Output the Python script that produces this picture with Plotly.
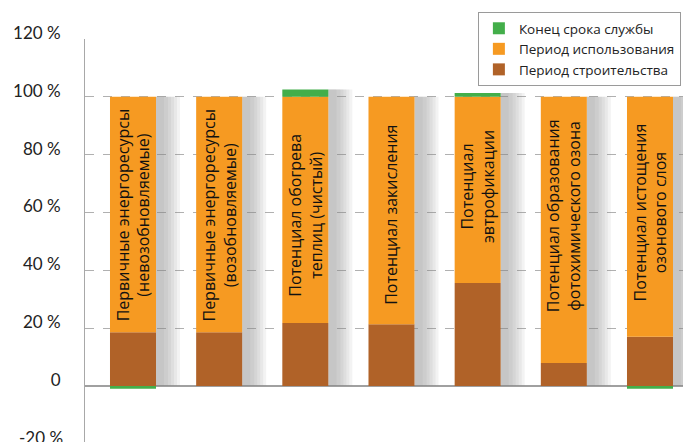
import plotly.graph_objects as go

# Life-cycle impact shares per indicator (percent of total)
categories = [
    "Первичные энергоресурсы<br>(невозобновляемые)",
    "Первичные энергоресурсы<br>(возобновляемые)",
    "Потенциал обогрева<br>теплиц (чистый)",
    "Потенциал закисления",
    "Потенциал<br>эвтрофикации",
    "Потенциал образования<br>фотохимического озона",
    "Потенциал истощения<br>озонового слоя",
]
construction = [18.6, 18.6, 21.8, 21.3, 35.6, 7.9, 17.0]
use_phase = [81.4, 81.4, 78.2, 78.7, 64.4, 92.1, 83.0]
end_of_life = [-1.0, 0.0, 2.5, 0.0, 1.3, 0.0, -1.0]

series_names = ["Период строительства", "Период использования", "Конец срока службы"]
tick_values = [0, 20, 40, 60, 80, 100, 120]
tick_labels = ["0", "20 %", "40 %", "60 %", "80 %", "100 %", "120 %"]
lowest_tick = -20
lowest_tick_label = "-20 %"

# styling
colors = {"construction": "#B06228", "use": "#F69A22", "eol": "#43AE4A"}
bar_width = 0.534
y_range = [-19.4, 120]
label_centers = [59, 59, 59, 59, 69, 59, 60]  # vertical centre of in-bar captions (axis units)
text_font = "Open Sans"
tick_font = dict(family="Lato", size=17, color="#222222")

x = list(range(len(categories)))
use_base = construction[:]
eol_base = [c + u if e > 0 else 0 for c, u, e in zip(construction, use_phase, end_of_life)]
tops = [c + u + max(e, 0) for c, u, e in zip(construction, use_phase, end_of_life)]

fig = go.Figure()

# soft drop shadow to the right of every column, built from thin translucent layers
for w_px in (8, 12, 15, 18, 21, 24):
    fig.add_trace(go.Bar(
        x=x, y=tops, base=[0] * len(x),
        width=w_px / 86.2, offset=bar_width / 2,
        marker=dict(color="rgba(140,140,140,0.1)", line=dict(width=0)),
        showlegend=False, hoverinfo="skip",
    ))

fig.add_trace(go.Bar(
    x=x, y=construction, base=[0] * len(x), width=bar_width,
    name=series_names[0],
    marker=dict(color=colors["construction"], line=dict(width=0)),
))
fig.add_trace(go.Bar(
    x=x, y=use_phase, base=use_base, width=bar_width,
    name=series_names[1],
    marker=dict(color=colors["use"], line=dict(width=0)),
))
fig.add_trace(go.Bar(
    x=x, y=end_of_life, base=eol_base, width=bar_width,
    name=series_names[2],
    marker=dict(color=colors["eol"], line=dict(width=0)),
))

for xi, name, yc in zip(x, categories, label_centers):
    fig.add_annotation(
        x=xi, y=yc, text=name, textangle=-90, showarrow=False,
        xanchor="center", yanchor="middle",
        font=dict(family=text_font, size=16, color="#111111"),
    )

# the -20 % tick sits just below the visible axis range, so place it in paper units
fig.add_annotation(
    xref="paper", yref="paper", x=0,
    y=(lowest_tick - y_range[0]) / (y_range[1] - y_range[0]),
    text=lowest_tick_label,
    showarrow=False, xanchor="right", yanchor="middle",
    xshift=-20, yshift=6, font=tick_font,
)

fig.update_layout(
    width=683, height=442,
    margin=dict(l=85, r=0, t=39, b=0),
    paper_bgcolor="white", plot_bgcolor="white",
    barmode="overlay",
    showlegend=True,
    legend=dict(
        x=0.657, y=1.067, xanchor="left", yanchor="top",
        traceorder="reversed",
        bordercolor="#9a9a9a", borderwidth=1, bgcolor="white",
        font=dict(family=text_font, size=13.5, color="#222222"),
    ),
)
fig.update_xaxes(
    range=[-0.557, 6.383], showticklabels=False, showgrid=False,
    zeroline=False, showline=False, ticks="",
)
fig.update_yaxes(
    range=y_range, tickvals=tick_values, ticktext=tick_labels,
    showgrid=True, gridcolor="#b0b0b0", griddash="dash", gridwidth=1,
    zeroline=True, zerolinecolor="#a0a0a0", zerolinewidth=1.5,
    showline=True, linecolor="#a8a8a8", linewidth=1,
    ticks="", ticklabelstandoff=20, ticklabelshift=-6,
    tickfont=tick_font,
)

fig.write_html("out.html")
